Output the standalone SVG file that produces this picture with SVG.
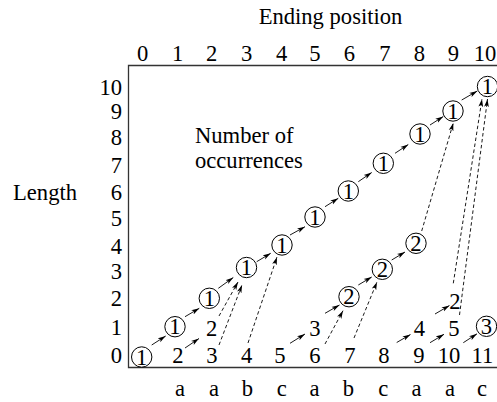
<svg xmlns="http://www.w3.org/2000/svg" width="497" height="402" viewBox="0 0 497 402" font-family="'Liberation Serif', serif">
<style>
text{font-family:"Liberation Serif","Times New Roman",serif;font-size:22.6px;fill:#000}
.m{text-anchor:middle}
.e{text-anchor:end}
.c{fill:#fff;stroke:#000;stroke-width:1}
.a{fill:none;stroke:#000;stroke-width:0.9;marker-end:url(#ah)}
.d{stroke-dasharray:3.5,2.5}
.f{fill:none;stroke:#333;stroke-width:1.3}
</style>
<defs>
<marker id="ah" viewBox="0 0 8 6" refX="8" refY="3" markerWidth="8" markerHeight="6" markerUnits="userSpaceOnUse" orient="auto">
<path d="M0,0.6 L8,3 L0,5.4 L2,3 z" fill="#000"/>
</marker>
</defs>
<rect width="497" height="402" fill="#fff"/>
<path class="f" d="M500,65.5 H128.5 V367.5 H500"/>
<g id="titles">
<text class="m" x="330.5" y="24">Ending position</text>
<text x="13" y="200">Length</text>
<text x="195" y="143">Number of</text>
<text x="195" y="168">occurrences</text>
</g>
<g id="col-labels">
<text class="m" x="142.7" y="61">0</text>
<text class="m" x="177.7" y="61">1</text>
<text class="m" x="211.7" y="61">2</text>
<text class="m" x="246.7" y="61">3</text>
<text class="m" x="281.7" y="61">4</text>
<text class="m" x="315" y="61">5</text>
<text class="m" x="349.3" y="61">6</text>
<text class="m" x="385" y="61">7</text>
<text class="m" x="419.3" y="61">8</text>
<text class="m" x="453.3" y="61">9</text>
<text class="m" x="485" y="61">10</text>
</g>
<g id="row-labels">
<text class="e" x="122" y="363">0</text>
<text class="e" x="122" y="335">1</text>
<text class="e" x="122" y="306">2</text>
<text class="e" x="122" y="279">3</text>
<text class="e" x="122" y="254">4</text>
<text class="e" x="122" y="226">5</text>
<text class="e" x="122" y="200">6</text>
<text class="e" x="122" y="173">7</text>
<text class="e" x="122" y="145">8</text>
<text class="e" x="122" y="119">9</text>
<text class="e" x="122" y="95">10</text>
</g>
<g id="letters">
<text class="m" x="180" y="396">a</text>
<text class="m" x="214" y="396">a</text>
<text class="m" x="247.5" y="396">b</text>
<text class="m" x="281.7" y="396">c</text>
<text class="m" x="314.5" y="396">a</text>
<text class="m" x="348.3" y="396">b</text>
<text class="m" x="383.3" y="396">c</text>
<text class="m" x="416.5" y="396">a</text>
<text class="m" x="450" y="396">a</text>
<text class="m" x="482" y="396">c</text>
</g>
<g id="connectors">
<path class="a" d="M151.7,345 L165.7,336"/>
<path class="a" d="M185,316.7 L199.3,308.3"/>
<path class="a" d="M218.3,288.3 L233.3,277.5"/>
<path class="a" d="M256.7,261.7 L270.7,253.3"/>
<path class="a" d="M290,235 L305,226.7"/>
<path class="a" d="M325,206.7 L338.3,198.3"/>
<path class="a" d="M358.3,181.7 L371.7,172.5"/>
<path class="a" d="M395,153.3 L408.3,144.5"/>
<path class="a" d="M430,125 L443.3,116.5"/>
<path class="a" d="M461.7,100 L477.3,91"/>
<path class="a" d="M185,348 L199,338.5"/>
<path class="a" d="M290,343.3 L305,334"/>
<path class="a" d="M325,313.3 L339.5,305"/>
<path class="a" d="M358.3,285 L371.7,277"/>
<path class="a" d="M391.7,260 L405,252"/>
<path class="a" d="M396.7,342.5 L410.5,334.5"/>
<path class="a" d="M430,342.7 L444,334.3"/>
<path class="a" d="M435,314 L449.5,305.5"/>
<path class="a" d="M463.3,342.7 L477,333.8"/>
<path class="a d" d="M219,316 L238,282"/>
<path class="a d" d="M219,345 L242,285"/>
<path class="a d" d="M248,343 L277,257"/>
<path class="a d" d="M325,344 L343,310.7"/>
<path class="a d" d="M354,338 L377,282"/>
<path class="a d" d="M421.7,231 L453.3,123"/>
<path class="a d" d="M453.3,283.3 L482,99"/>
<path class="a d" d="M459.5,315 L487.5,99"/>
</g>
<g id="n0_0"><circle class="c" cx="141.7" cy="357" r="10.2"/><text class="m" x="141.7" y="364.5">1</text></g>
<g id="n1_1"><circle class="c" cx="175" cy="326.7" r="10.2"/><text class="m" x="175" y="334.2">1</text></g>
<g id="n2_2"><circle class="c" cx="209.3" cy="298.3" r="10.2"/><text class="m" x="209.3" y="305.8">1</text></g>
<g id="n3_3"><circle class="c" cx="246.5" cy="267.5" r="10.2"/><text class="m" x="246.5" y="275">1</text></g>
<g id="n4_4"><circle class="c" cx="282" cy="245" r="10.2"/><text class="m" x="282" y="252.5">1</text></g>
<g id="n5_5"><circle class="c" cx="315" cy="217" r="10.2"/><text class="m" x="315" y="224.5">1</text></g>
<g id="n6_6"><circle class="c" cx="348.3" cy="191" r="10.2"/><text class="m" x="348.3" y="198.5">1</text></g>
<g id="n7_7"><circle class="c" cx="383.3" cy="163.3" r="10.2"/><text class="m" x="383.3" y="170.8">1</text></g>
<g id="n8_8"><circle class="c" cx="420" cy="134" r="10.2"/><text class="m" x="420" y="141.5">1</text></g>
<g id="n9_9"><circle class="c" cx="453" cy="111" r="10.2"/><text class="m" x="453" y="118.5">1</text></g>
<g id="n10_10"><circle class="c" cx="487.5" cy="86.5" r="10.2"/><text class="m" x="487.5" y="94">1</text></g>
<g id="n6_2"><circle class="c" cx="349" cy="296.7" r="10.2"/><text class="m" x="349" y="304.2">2</text></g>
<g id="n7_3"><circle class="c" cx="382.3" cy="269.3" r="10.2"/><text class="m" x="382.3" y="276.8">2</text></g>
<g id="n8_4"><circle class="c" cx="416" cy="243.3" r="10.2"/><text class="m" x="416" y="250.8">2</text></g>
<g id="n10_1"><circle class="c" cx="486.5" cy="326.3" r="10.2"/><text class="m" x="486.5" y="333.8">3</text></g>
<g id="t1_0"><text class="m" x="178" y="363">2</text></g>
<g id="t2_0"><text class="m" x="212" y="363">3</text></g>
<g id="t3_0"><text class="m" x="246.7" y="363">4</text></g>
<g id="t4_0"><text class="m" x="280" y="363">5</text></g>
<g id="t5_0"><text class="m" x="315" y="363">6</text></g>
<g id="t6_0"><text class="m" x="350" y="363">7</text></g>
<g id="t7_0"><text class="m" x="384" y="363">8</text></g>
<g id="t8_0"><text class="m" x="419" y="363">9</text></g>
<g id="t9_0"><text class="m" x="449" y="363">10</text></g>
<g id="t10_0"><text class="m" x="482.5" y="363">11</text></g>
<g id="t2_1"><text class="m" x="211.7" y="335.5">2</text></g>
<g id="t5_1"><text class="m" x="315" y="335.5">3</text></g>
<g id="t8_1"><text class="m" x="419.3" y="336">4</text></g>
<g id="t9_1"><text class="m" x="454" y="336">5</text></g>
<g id="t9_2"><text class="m" x="455" y="308.5">2</text></g>
</svg>
